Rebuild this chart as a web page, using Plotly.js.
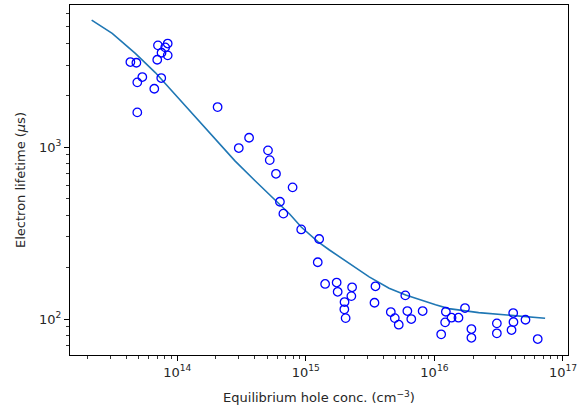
<!DOCTYPE html>
<html>
<head>
<meta charset="utf-8">
<script src="https://cdn.plot.ly/plotly-3.0.1.min.js"></script>
<style>
  html, body { margin: 0; padding: 0; background: #ffffff; }
  #chart { width: 577px; height: 409px; }
</style>
</head>
<body>
<div id="chart"></div>
<script>
// Measured electron lifetimes vs equilibrium hole concentration
const measHoleConc = [
  4.32e13, 4.81e13, 4.89e13, 5.35e13, 4.89e13, 6.63e13, 6.99e13, 7.08e13, 7.55e13, 8.06e13,
  8.43e13, 8.43e13, 7.51e13, 2.06e14, 3.01e14, 3.62e14, 5.08e14, 5.24e14, 5.86e14, 7.89e14,
  6.29e14, 6.69e14, 9.21e14, 1.27e15, 1.238e15, 1.413e15, 1.737e15, 1.769e15, 2.29e15, 2.26e15,
  2.00e15, 1.993e15, 2.04e15, 3.48e15, 3.42e15, 4.58e15, 4.92e15, 5.28e15, 5.94e15, 6.16e15,
  6.61e15, 8.10e15, 1.228e16, 1.212e16, 1.129e16, 1.359e16, 1.539e16, 1.73e16, 1.94e16, 1.94e16,
  3.06e16, 3.06e16, 4.10e16, 4.12e16, 3.98e16, 5.11e16, 6.36e16
];
const measLifetime = [
  3120, 3091, 2378, 2553, 1591, 2183, 3218, 3903, 3534, 3799,
  3998, 3413, 2519, 1708, 987, 1133, 957, 840, 699, 583,
  481, 410, 332, 292, 214, 160, 163, 144, 153, 136,
  125.6, 113.9, 101.3, 155, 124.4, 109.8, 101.3, 92.7, 137.3, 111.3,
  100, 111.3, 110.3, 95.7, 81.5, 101.8, 101.8, 115.9, 87.5, 77.8,
  94.4, 82.6, 108.4, 96.1, 86.3, 99.1, 76.5
];

// Model curve
const modelHoleConc = [
  2.16e13, 3.12e13, 4.72e13, 6.75e13, 9.63e13, 1.377e14, 1.965e14, 2.81e14, 4.01e14, 5.93e14,
  7.48e14, 9.21e14, 1.239e15, 1.527e15, 2.18e15, 3.11e15, 4.44e15, 5.98e15, 1.021e16, 1.294e16,
  2.21e16, 4.00e16, 7.26e16
];
const modelLifetime = [
  5470, 4580, 3507, 2711, 2020, 1504, 1119, 831, 639, 486,
  408, 343, 282, 252, 211, 176, 151, 138, 121, 115,
  109, 104.6, 101
];

// Axis tick labels
const xMajorVals = [1e14, 1e15, 1e16, 1e17];
const xMajorText = ['10<sup>14</sup>', '10<sup>15</sup>', '10<sup>16</sup>', '10<sup>17</sup>'];
const yMajorVals = [1e2, 1e3];
const yMajorText = ['10<sup>2</sup>', '10<sup>3</sup>'];

function minorTicks(fromExp, toExp) {
  const out = [];
  for (let e = fromExp; e <= toExp; e++) {
    for (let m = 2; m <= 9; m++) out.push(m * Math.pow(10, e));
  }
  return out;
}

const font = { family: 'DejaVu Sans, sans-serif', size: 13, color: '#262626' };

const traces = [
  {
    x: modelHoleConc, y: modelLifetime,
    type: 'scatter', mode: 'lines',
    line: { color: '#1f77b4', width: 1.6 },
    hoverinfo: 'skip', showlegend: false
  },
  {
    x: measHoleConc, y: measLifetime,
    type: 'scatter', mode: 'markers',
    marker: { symbol: 'circle-open', size: 8.5, color: '#0000ff', line: { width: 1.3, color: '#0000ff' } },
    showlegend: false
  }
];

const axisCommon = {
  type: 'log',
  showline: true, linecolor: '#000000', linewidth: 1, mirror: true,
  showgrid: false, zeroline: false,
  ticks: 'outside', tickcolor: '#000000', ticklen: 5, tickwidth: 1,
  tickmode: 'array',
  ticklabeloverflow: 'allow',
  tickfont: font
};

const layout = {
  width: 577, height: 409,
  margin: { l: 70, r: 9, t: 5, b: 54 },
  paper_bgcolor: '#ffffff', plot_bgcolor: '#ffffff',
  font: font,
  xaxis: Object.assign({}, axisCommon, {
    range: [13.166, 17.039],
    tickvals: xMajorVals, ticktext: xMajorText,
    minor: { tickmode: 'array', tickvals: minorTicks(13, 16), ticks: 'outside', ticklen: 3, tickcolor: '#000000', tickwidth: 0.8 },
    title: { text: 'Equilibrium hole conc. (cm<sup>\u22123</sup>)', font: font, standoff: 14 }
  }),
  yaxis: Object.assign({}, axisCommon, {
    range: [1.791, 3.826],
    tickvals: yMajorVals, ticktext: yMajorText,
    minor: { tickmode: 'array', tickvals: minorTicks(1, 3), ticks: 'outside', ticklen: 3, tickcolor: '#000000', tickwidth: 0.8 },
    title: { text: 'Electron lifetime (<i>\u03bc</i>s)', font: font, standoff: 10 }
  })
};

Plotly.newPlot('chart', traces, layout, { displayModeBar: false, staticPlot: true });
</script>
</body>
</html>
